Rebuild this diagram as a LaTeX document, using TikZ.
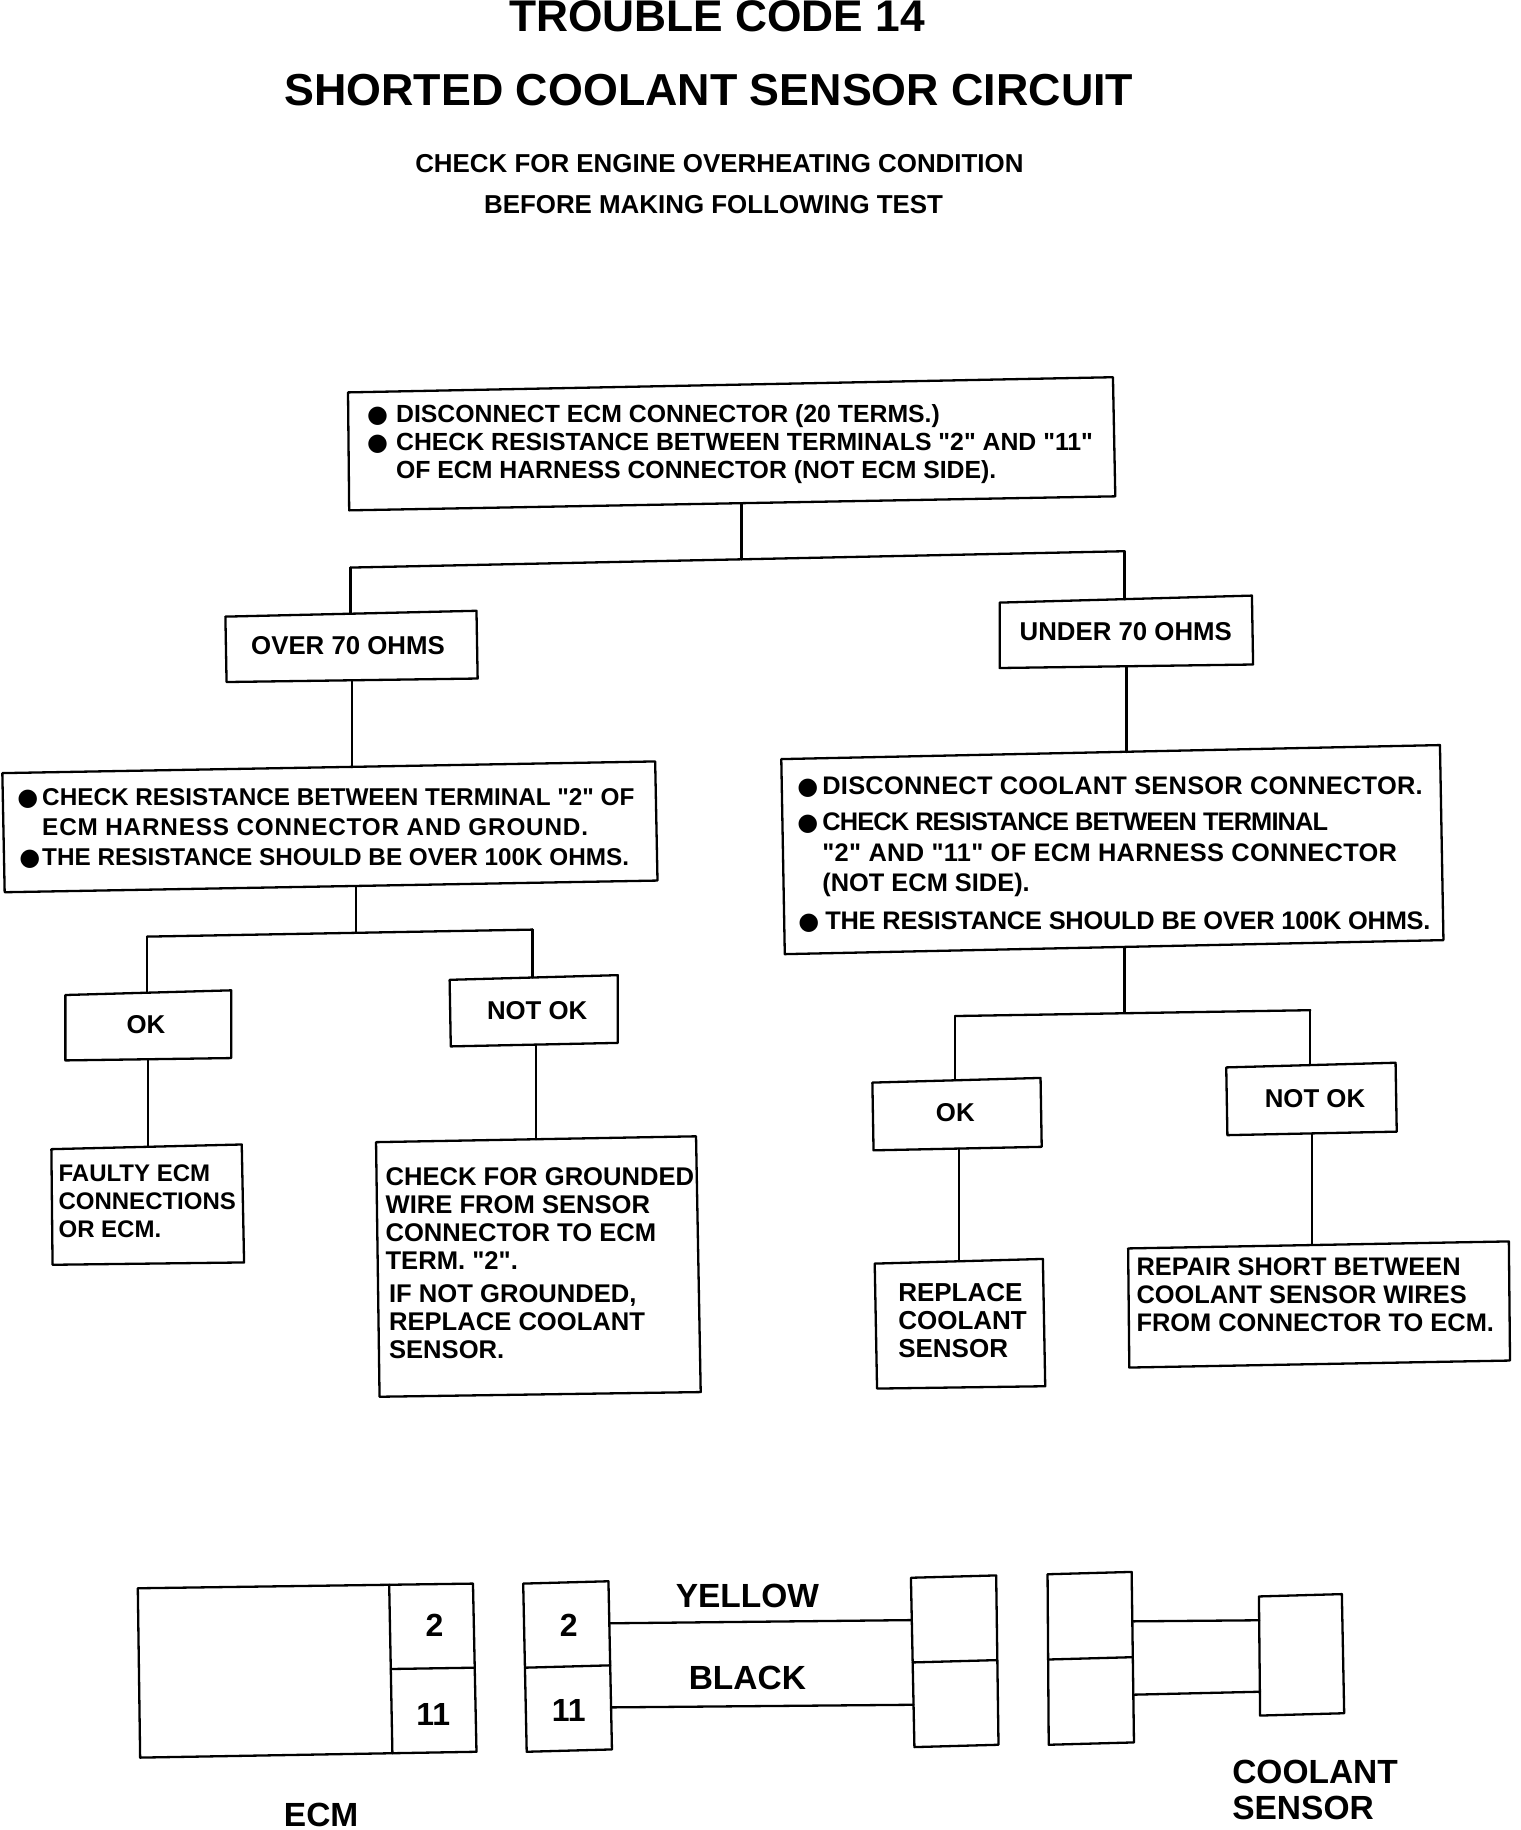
\documentclass[tikz,border=0pt]{standalone}
\usepackage{fontspec}
\usetikzlibrary{calc}
\newfontfamily\fb{Liberation Sans Bold}
\newfontfamily\bulfont{DejaVu Sans}
\newcommand{\bul}[1]{\leavevmode\llap{{\bulfont\fontsize{24}{24}\selectfont ●}\hspace{#1pt}}}
\newcommand{\spaced}[2]{{\addfontfeature{LetterSpace=#1}#2}}
\tikzset{
 x=1.16784pt,y=-1.16784pt,
 line/.style={line width=2.3pt,line cap=round,line join=round},
 body/.style={font=\fb\fontsize{#1}{28}\selectfont,inner sep=0pt,align=left,anchor=west},
 boxlabel/.style={font=\fb\fontsize{25.8}{28}\selectfont,inner sep=0pt},
 pin/.style={font=\fb\fontsize{32}{34}\selectfont,inner sep=0pt},
 wirelabel/.style={font=\fb\fontsize{33.5}{36}\selectfont,inner sep=0pt},
 title/.style={font=\fb\fontsize{#1}{48}\selectfont,inner sep=0pt},
 subtitle/.style={font=\fb\fontsize{25.9}{30}\selectfont,inner sep=0pt},
}
\newcommand{\qbox}[9]{%
 \coordinate (#1tl) at (#2,#3);\coordinate (#1tr) at (#4,#5);
 \coordinate (#1br) at (#6,#7);\coordinate (#1bl) at (#8,#9);
 \draw[line] (#1tl)--(#1tr)--(#1br)--(#1bl)--cycle;
 \coordinate (#1n) at ($(#1tl)!.5!(#1tr)$);\coordinate (#1s) at ($(#1bl)!.5!(#1br)$);}
\begin{document}
\begin{tikzpicture}
\useasboundingbox (0,0) rectangle (1301.56,1567);
\node[title=44.3] (t1) at (614,14) {TROUBLE CODE 14};
\node[title=44.8] (t2) at (607,77) {SHORTED COOLANT SENSOR CIRCUIT};
\node[subtitle] (t3) at (616,140) {CHECK FOR ENGINE OVERHEATING CONDITION};
\node[subtitle] (t4) at (611,175) {BEFORE MAKING FOLLOWING TEST};
% boxes
\qbox{b}{298}{336}{953}{323}{955}{425}{299}{437}
\qbox{ov}{193}{528}{408}{523}{409}{581}{194}{584}
\qbox{un}{856}{516}{1072}{510}{1073}{569}{856}{572}
\qbox{l}{2}{662}{561}{652}{563}{754}{4}{764}
\qbox{r}{669}{650}{1233}{638}{1236}{805}{672}{817}
\qbox{lok}{56}{852}{198}{848}{198}{906}{56}{908}
\qbox{lno}{385}{839}{529}{835}{529}{893}{386}{896}
\qbox{fa}{44}{984}{207}{980}{209}{1081}{45}{1083}
\qbox{ch}{322}{978}{596}{973}{600}{1192}{325}{1196}
\qbox{rok}{747}{927}{891}{923}{892}{982}{748}{985}
\qbox{rno}{1050}{914}{1195}{910}{1196}{969}{1051}{972}
\qbox{re}{749}{1082}{893}{1078}{895}{1187}{751}{1189}
\qbox{rp}{966}{1069}{1292}{1063}{1293}{1165}{967}{1171}
% tree junctions
\coordinate (j1) at (635,479);\coordinate (j1l) at (300,486);\coordinate (j1r) at (963,472);
\coordinate (j2) at (305,798);\coordinate (j2l) at (126,802);\coordinate (j2r) at (456,796);
\coordinate (j3) at (963,867);\coordinate (j3l) at (818,870);\coordinate (j3r) at (1122,865);
\draw[line] (j1 |- bs) -- (j1);
\draw[line] (j1l)--(j1r);
\draw[line] (j1l)--(j1l |- ovn);
\draw[line] (j1r)--(j1r |- unn);
\draw[line] (ovs)--(ovs |- ln);
\draw[line] (uns)--(uns |- rn);
\draw[line] (j2 |- ls)--(j2);
\draw[line] (j2l)--(j2r);
\draw[line] (j2l)--(j2l |- lokn);
\draw[line] (j2r)--(j2r |- lnon);
\draw[line] (loks)--(loks |- fan);
\draw[line] (chn)--(chn |- lnos);
\draw[line] (j3 |- rs)--(j3);
\draw[line] (j3l)--(j3r);
\draw[line] (j3l)--(j3l |- rokn);
\draw[line] (j3r)--(j3r |- rnon);
\draw[line] (ren)--(ren |- roks);
\draw[line] (rnos)--(rnos |- rpn);
% texts
\node[body=24.8] (bt) at (339,380) {\bul{8}DISCONNECT ECM CONNECTOR (20 TERMS.)\\\bul{8}CHECK RESISTANCE BETWEEN TERMINALS "2" AND "11"\\OF ECM HARNESS CONNECTOR (NOT ECM SIDE).};
\node[boxlabel] (ovt) at (298,553) {OVER 70 OHMS};
\node[boxlabel] (unt) at (964,541) {UNDER 70 OHMS};
\node[body=24.3] (lt) at (36,709.5) {\bul{4}CHECK RESISTANCE BETWEEN TERMINAL "2" OF\\[2pt]\spaced{3.3}{ECM HARNESS CONNECTOR AND GROUND.}\\[2pt]\bul{2}THE RESISTANCE SHOULD BE OVER 100K OHMS.};
\node[body=25.4] (rt) at (704,732) {\bul{4}\spaced{1}{DISCONNECT COOLANT SENSOR CONNECTOR.}\\[8pt]\bul{4}\spaced{-3.5}{CHECK RESISTANCE BETWEEN TERMINAL}\\[3pt]\spaced{1.2}{"2" AND "11" OF ECM HARNESS CONNECTOR}\\[2pt](NOT ECM SIDE).\\[10pt]\bul{3}\hspace{3pt}\spaced{-1}{THE RESISTANCE SHOULD BE OVER 100K OHMS.}};
\node[boxlabel] (lokt) at (125,877) {OK};
\node[boxlabel] (lnot) at (460,865) {NOT OK};
\node[boxlabel] (rokt) at (818,953) {OK};
\node[boxlabel] (rnot) at (1126,941) {NOT OK};
\node[body=24] (fat) at (50,1029) {FAULTY ECM\\CONNECTIONS\\OR ECM.};
\node[body=25.6] (cht) at (330,1043) {CHECK FOR GROUNDED\\WIRE FROM SENSOR\\CONNECTOR TO ECM\\TERM. "2".};
\node[body=25.6] (cht2) at (333,1132) {IF NOT GROUNDED,\\REPLACE COOLANT\\SENSOR.};
\node[body=26] (ret) at (769,1131) {REPLACE\\COOLANT\\SENSOR};
\node[body=25.4] (rpt) at (973,1109) {REPAIR SHORT BETWEEN\\COOLANT SENSOR WIRES\\FROM CONNECTOR TO ECM.};
% connector diagram
\qbox{ecm}{118}{1360}{405}{1356}{408}{1500}{120}{1505}
\draw[line] ($(ecmtl)!.75!(ecmtr)$)--($(ecmbl)!.75!(ecmbr)$);
\draw[line] ($($(ecmtl)!.75!(ecmtr)$)!.5!($(ecmbl)!.75!(ecmbr)$)$)--($(ecmtr)!.5!(ecmbr)$);
\qbox{ca}{448}{1356}{521}{1354}{524}{1498}{451}{1500}
\draw[line] ($(catl)!.5!(cabl)$)--($(catr)!.5!(cabr)$);
\qbox{cb}{780}{1351}{853}{1349}{855}{1494}{783}{1496}
\draw[line] ($(cbtl)!.5!(cbbl)$)--($(cbtr)!.5!(cbbr)$);
\qbox{cc}{897}{1348}{969}{1346}{971}{1492}{898}{1494}
\draw[line] ($(cctl)!.5!(ccbl)$)--($(cctr)!.5!(ccbr)$);
\qbox{se}{1078}{1367}{1149}{1365}{1151}{1467}{1079}{1469}
\draw[line] ($(catr)!.25!(cabr)$)--($(cbtl)!.25!(cbbl)$);
\draw[line] ($(catr)!.75!(cabr)$)--($(cbtl)!.75!(cbbl)$);
\draw[line] ($(cctr)!.29!(ccbr)$)--($(setl)!.2!(sebl)$);
\draw[line] ($(cctr)!.72!(ccbr)$)--($(setl)!.8!(sebl)$);
\node[pin] (p1) at (372,1392) {2};
\node[pin] (p2) at (371,1468) {11};
\node[pin] (p3) at (487,1392) {2};
\node[pin] (p4) at (487,1465) {11};
\node[wirelabel] (yl) at (640,1367) {YELLOW};
\node[wirelabel] (bl) at (640,1437) {BLACK};
\node[wirelabel] (el) at (275,1554) {ECM};
\node[wirelabel,anchor=west,align=left] (cl) at (1055,1533) {COOLANT\\SENSOR};
\end{tikzpicture}
\end{document}
